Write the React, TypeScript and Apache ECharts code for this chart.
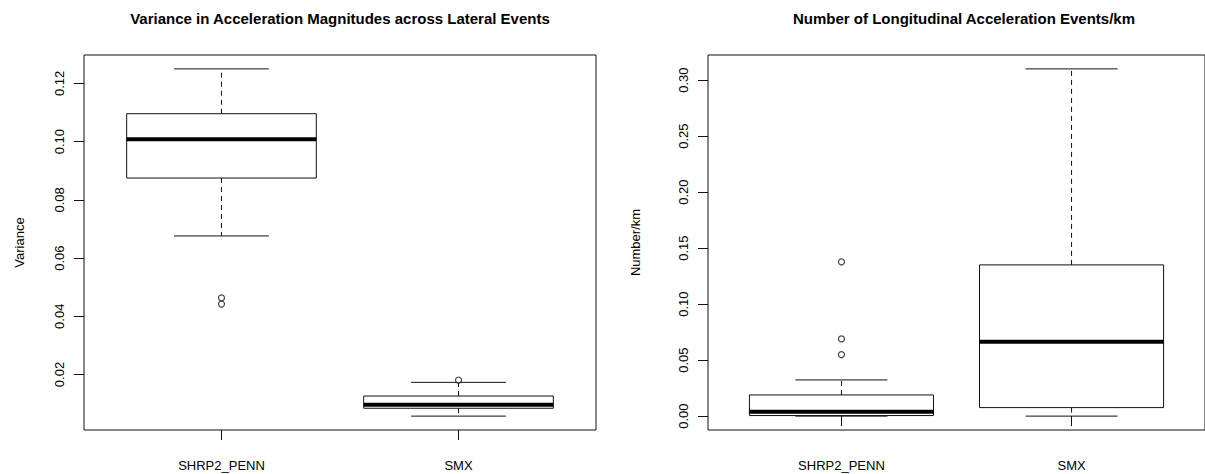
import React, { useEffect, useRef } from "react";
import * as echarts from "echarts";

// ---- data ----
const groups = ["SHRP2_PENN", "SMX"];
// [min whisker, Q1, median, Q3, max whisker]
const varianceStats = [
  [0.0676, 0.0875, 0.1008, 0.1096, 0.125],
  [0.0057, 0.0084, 0.0096, 0.0126, 0.0173],
];
const varianceOutliers = [
  [1, 0.0463],
  [1, 0.0442],
  [2, 0.0181],
];
const eventsStats = [
  [0.0, 0.0005, 0.004, 0.0189, 0.0323],
  [0.0, 0.0076, 0.0665, 0.135, 0.31],
];
const eventsOutliers = [
  [1, 0.1377],
  [1, 0.0689],
  [1, 0.0549],
];
const varianceTicks = [0.02, 0.04, 0.06, 0.08, 0.1, 0.12];
const eventsTicks = [0, 0.05, 0.1, 0.15, 0.2, 0.25, 0.3];
const groupPositions = [1, 2];

const FONT = "'Liberation Sans', Arial, sans-serif";

function rRange(stats: number[][], outs: number[][]) {
  const vals: number[] = [];
  stats.forEach((s) => vals.push(...s));
  outs.forEach((o) => vals.push(o[1]));
  const lo = Math.min(...vals);
  const hi = Math.max(...vals);
  const ext = (hi - lo) * 0.04;
  return [lo - ext, hi + ext];
}

const BOX_HALF = 0.4;
const CAP_HALF = 0.2;

function renderBox(params: any, api: any) {
  const x = api.value(0);
  const mn = api.value(1);
  const q1 = api.value(2);
  const md = api.value(3);
  const q3 = api.value(4);
  const mx = api.value(5);
  const pTL = api.coord([x - BOX_HALF, q3]);
  const pBR = api.coord([x + BOX_HALF, q1]);
  const pMdL = api.coord([x - BOX_HALF, md]);
  const pMdR = api.coord([x + BOX_HALF, md]);
  const pMax = api.coord([x, mx]);
  const pMin = api.coord([x, mn]);
  const pQ3 = api.coord([x, q3]);
  const pQ1 = api.coord([x, q1]);
  const capL = api.coord([x - CAP_HALF, mx]);
  const capR = api.coord([x + CAP_HALF, mx]);
  const capL2 = api.coord([x - CAP_HALF, mn]);
  const capR2 = api.coord([x + CAP_HALF, mn]);
  const stroke = "#111";
  return {
    type: "group",
    children: [
      {
        type: "line",
        shape: { x1: pQ3[0], y1: pQ3[1], x2: pMax[0], y2: pMax[1] },
        style: { stroke, lineWidth: 1, lineDash: [5, 4] },
      },
      {
        type: "line",
        shape: { x1: pQ1[0], y1: pQ1[1], x2: pMin[0], y2: pMin[1] },
        style: { stroke, lineWidth: 1, lineDash: [5, 4] },
      },
      {
        type: "line",
        shape: { x1: capL[0], y1: capL[1], x2: capR[0], y2: capR[1] },
        style: { stroke, lineWidth: 1 },
      },
      {
        type: "line",
        shape: { x1: capL2[0], y1: capL2[1], x2: capR2[0], y2: capR2[1] },
        style: { stroke, lineWidth: 1 },
      },
      {
        type: "rect",
        shape: {
          x: pTL[0],
          y: pTL[1],
          width: pBR[0] - pTL[0],
          height: pBR[1] - pTL[1],
        },
        style: { fill: "#fff", stroke, lineWidth: 1 },
      },
      {
        type: "line",
        shape: { x1: pMdL[0], y1: pMdL[1], x2: pMdR[0], y2: pMdR[1] },
        style: { stroke: "#000", lineWidth: 4 },
      },
    ],
  };
}

export default function App() {
  const ref = useRef<HTMLDivElement>(null);
  useEffect(() => {
    document.body.style.margin = "0";
    if (!ref.current) return;
    const chart = echarts.init(ref.current, null, { renderer: "svg" });
    const vr = rRange(varianceStats, varianceOutliers);
    const er = rRange(eventsStats, eventsOutliers);

    const xAxisBase = (gi: number) => ({
      type: "value",
      gridIndex: gi,
      min: 0.42,
      max: 2.58,
      splitLine: { show: false },
      axisLine: { show: false },
      axisTick: {
        show: true,
        length: 10,
        customValues: groupPositions,
        lineStyle: { color: "#111", width: 1 },
      },
      axisLabel: {
        customValues: groupPositions,
        formatter: (v: number) => groups[Math.round(v) - 1] ?? "",
        margin: 29,
        color: "#000",
        fontSize: 13,
        fontFamily: FONT,
      },
    });
    const yAxisBase = (
      gi: number,
      range: number[],
      ticks: number[],
      name: string,
      gap: number
    ) => ({
      type: "value",
      gridIndex: gi,
      min: range[0],
      max: range[1],
      name,
      nameLocation: "middle",
      nameGap: gap,
      nameRotate: 90,
      nameTextStyle: { color: "#000", fontSize: 13, fontFamily: FONT },
      splitLine: { show: false },
      axisLine: { show: false },
      axisTick: {
        show: true,
        length: 10,
        customValues: ticks,
        lineStyle: { color: "#111", width: 1 },
      },
      axisLabel: {
        customValues: ticks,
        rotate: 90,
        formatter: (v: number) => v.toFixed(2),
        margin: 18,
        color: "#000",
        fontSize: 13,
        fontFamily: FONT,
      },
    });

    const scatterStyle = {
      type: "scatter",
      symbol: "circle",
      symbolSize: 6,
      itemStyle: { color: "#fff", borderColor: "#111", borderWidth: 1.2 },
    };

    chart.setOption({
      animation: false,
      backgroundColor: "#fff",
      grid: [
        {
          left: 84,
          top: 55,
          width: 512,
          height: 375,
          show: true,
          borderColor: "#111",
          borderWidth: 1,
          backgroundColor: "transparent",
          containLabel: false,
        },
        {
          left: 708,
          top: 55,
          width: 512,
          height: 375,
          show: true,
          borderColor: "#111",
          borderWidth: 1,
          backgroundColor: "transparent",
          containLabel: false,
        },
      ],
      xAxis: [xAxisBase(0), xAxisBase(1)],
      yAxis: [
        yAxisBase(0, vr, varianceTicks, "Variance", 58),
        yAxisBase(1, er, eventsTicks, "Number/km", 66),
      ],
      graphic: [
        {
          type: "text",
          x: 340,
          y: 18,
          style: {
            text: "Variance in Acceleration Magnitudes across Lateral Events",
            font: `bold 15px ${FONT}`,
            fill: "#000",
            textAlign: "center",
            textVerticalAlign: "middle",
          },
        },
        {
          type: "text",
          x: 964,
          y: 18,
          style: {
            text: "Number of Longitudinal Acceleration Events/km",
            font: `bold 15px ${FONT}`,
            fill: "#000",
            textAlign: "center",
            textVerticalAlign: "middle",
          },
        },
      ],
      series: [
        {
          type: "custom",
          xAxisIndex: 0,
          yAxisIndex: 0,
          renderItem: renderBox,
          encode: { x: 0, y: [1, 2, 3, 4, 5] },
          data: varianceStats.map((s, i) => [groupPositions[i], ...s]),
        },
        {
          ...scatterStyle,
          xAxisIndex: 0,
          yAxisIndex: 0,
          data: varianceOutliers,
        },
        {
          type: "custom",
          xAxisIndex: 1,
          yAxisIndex: 1,
          renderItem: renderBox,
          encode: { x: 0, y: [1, 2, 3, 4, 5] },
          data: eventsStats.map((s, i) => [groupPositions[i], ...s]),
        },
        {
          ...scatterStyle,
          xAxisIndex: 1,
          yAxisIndex: 1,
          data: eventsOutliers,
        },
      ],
    });
    return () => chart.dispose();
  }, []);
  return <div ref={ref} style={{ width: 1205, height: 474 }} />;
}
